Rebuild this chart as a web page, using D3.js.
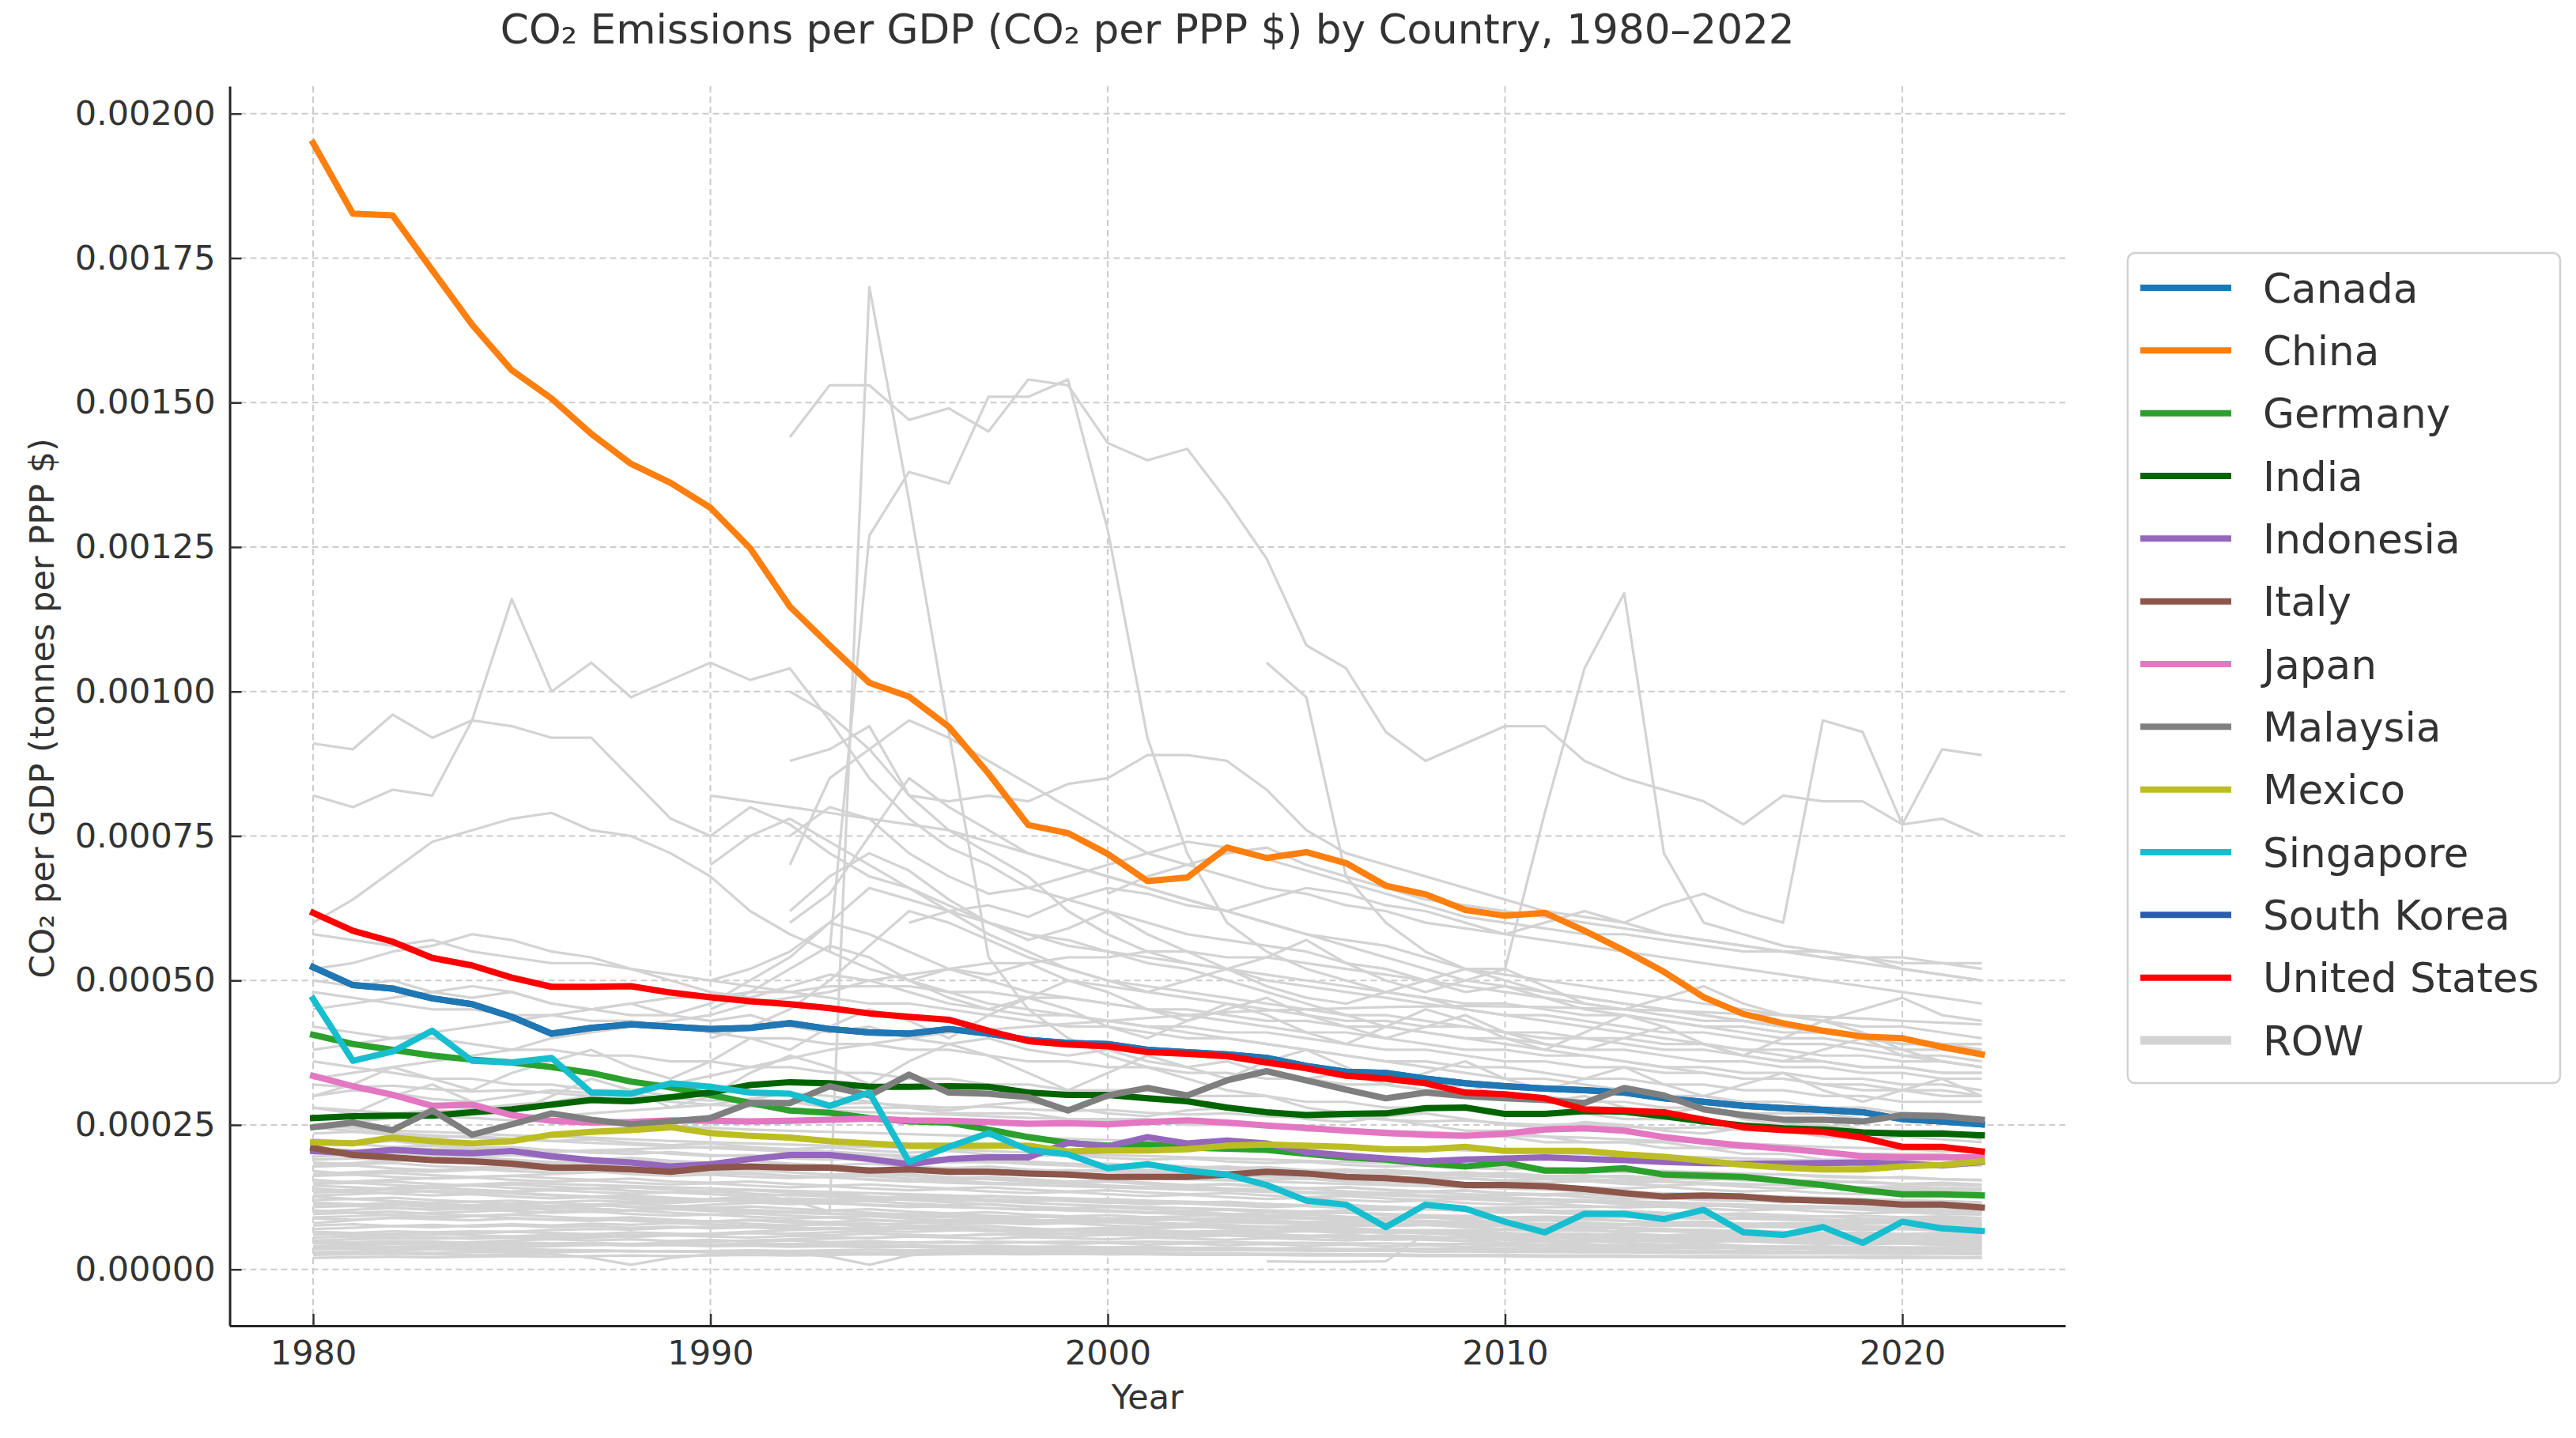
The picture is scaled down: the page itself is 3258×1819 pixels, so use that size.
<!DOCTYPE html>
<html>
<head>
<meta charset="utf-8">
<script src="https://cdn.jsdelivr.net/npm/d3@7"></script>
<style>
  html, body { margin: 0; padding: 0; background: #ffffff; }
  svg { display: block; }
  text { font-family: "DejaVu Sans", "Liberation Sans", sans-serif; fill: #333333; }
</style>
</head>
<body>
<svg id="chart" width="3258" height="1819"></svg>
<script>
// ---------------- DATA ----------------
const N = null;
const years = [1980,1981,1982,1983,1984,1985,1986,1987,1988,1989,
               1990,1991,1992,1993,1994,1995,1996,1997,1998,1999,
               2000,2001,2002,2003,2004,2005,2006,2007,2008,2009,
               2010,2011,2012,2013,2014,2015,2016,2017,2018,2019,
               2020,2021,2022];

const countries = ["Canada","China","Germany","India","Indonesia","Italy","Japan",
                   "Malaysia","Mexico","Singapore","South Korea","United States"];
const countryColors = ["#1f77b4","#ff7f0e","#2ca02c","#006400","#9467bd","#8c564b","#e377c2",
                       "#7f7f7f","#bcbd22","#17becf","#2a5caa","#ff0000"];
const rowLabel = "ROW";
const rowColor = "#d3d3d3";

// tonnes CO2 per PPP $
const canada = [0.000523,0.000492,0.000486,0.000469,0.000459,0.000437,0.000408,0.000418,0.000424,0.000420,
                0.000416,0.000418,0.000426,0.000416,0.000410,0.000408,0.000416,0.000408,0.000397,0.000392,
                0.000390,0.000380,0.000376,0.000372,0.000366,0.000352,0.000342,0.000340,0.000330,0.000322,
                0.000317,0.000313,0.000310,0.000306,0.000296,0.000290,0.000283,0.000279,0.000276,0.000272,
                0.000260,0.000256,0.000251];
const china = [0.001949,0.001827,0.001824,0.001729,0.001635,0.001556,0.001507,0.001446,0.001394,0.001361,
               0.001318,0.001248,0.001147,0.001080,0.001015,0.000991,0.000939,0.000858,0.000769,0.000755,
               0.000719,0.000672,0.000678,0.000730,0.000712,0.000722,0.000703,0.000664,0.000649,0.000622,
               0.000612,0.000617,0.000586,0.000552,0.000515,0.000471,0.000442,0.000426,0.000413,0.000403,
               0.000400,0.000385,0.000372];
const germany = [0.000406,0.000390,0.000380,0.000370,0.000363,0.000358,0.000350,0.000340,0.000325,0.000315,
                 0.000302,0.000288,0.000275,0.000271,0.000262,0.000256,0.000254,0.000242,0.000229,0.000219,
                 0.000214,0.000216,0.000211,0.000209,0.000207,0.000200,0.000194,0.000190,0.000183,0.000178,
                 0.000185,0.000171,0.000171,0.000175,0.000164,0.000162,0.000160,0.000153,0.000146,0.000137,
                 0.000130,0.000130,0.000128];
const india = [0.000262,0.000265,0.000266,0.000266,0.000272,0.000277,0.000285,0.000293,0.000291,0.000298,
               0.000306,0.000319,0.000324,0.000322,0.000316,0.000316,0.000317,0.000316,0.000306,0.000302,
               0.000302,0.000296,0.000291,0.000280,0.000272,0.000267,0.000269,0.000270,0.000279,0.000280,
               0.000269,0.000269,0.000274,0.000273,0.000265,0.000256,0.000249,0.000244,0.000242,0.000237,
               0.000235,0.000235,0.000232];
const indonesia = [0.000205,0.000201,0.000207,0.000203,0.000201,0.000205,0.000196,0.000189,0.000185,0.000178,
                   0.000182,0.000191,0.000198,0.000198,0.000191,0.000182,0.000191,0.000194,0.000194,0.000219,
                   0.000213,0.000229,0.000218,0.000223,0.000218,0.000203,0.000197,0.000192,0.000187,0.000190,
                   0.000192,0.000194,0.000191,0.000189,0.000186,0.000184,0.000183,0.000183,0.000184,0.000185,
                   0.000183,0.000180,0.000186];
const italy = [0.000210,0.000198,0.000194,0.000189,0.000187,0.000183,0.000176,0.000176,0.000173,0.000169,
               0.000176,0.000178,0.000176,0.000176,0.000171,0.000173,0.000169,0.000169,0.000166,0.000164,
               0.000160,0.000160,0.000160,0.000164,0.000169,0.000166,0.000160,0.000158,0.000153,0.000146,
               0.000146,0.000144,0.000139,0.000132,0.000126,0.000128,0.000126,0.000121,0.000119,0.000117,
               0.000112,0.000112,0.000107];
const japan = [0.000335,0.000317,0.000302,0.000283,0.000285,0.000267,0.000257,0.000254,0.000255,0.000258,
               0.000257,0.000256,0.000257,0.000259,0.000261,0.000258,0.000257,0.000255,0.000252,0.000253,
               0.000251,0.000255,0.000258,0.000254,0.000249,0.000245,0.000240,0.000236,0.000233,0.000231,
               0.000235,0.000242,0.000244,0.000240,0.000229,0.000221,0.000214,0.000209,0.000203,0.000196,
               0.000194,0.000194,0.000194];
const malaysia = [0.000246,0.000254,0.000241,0.000275,0.000233,0.000251,0.000270,0.000259,0.000251,0.000256,
                  0.000262,0.000288,0.000288,0.000317,0.000301,0.000337,0.000306,0.000304,0.000298,0.000275,
                  0.000301,0.000314,0.000301,0.000327,0.000343,0.000327,0.000311,0.000296,0.000306,0.000300,
                  0.000296,0.000293,0.000288,0.000314,0.000301,0.000277,0.000267,0.000259,0.000259,0.000256,
                  0.000267,0.000265,0.000259];
const mexico = [0.000220,0.000218,0.000228,0.000222,0.000218,0.000222,0.000233,0.000238,0.000241,0.000246,
                0.000236,0.000231,0.000228,0.000222,0.000218,0.000214,0.000214,0.000214,0.000214,0.000204,
                0.000206,0.000206,0.000208,0.000214,0.000216,0.000214,0.000212,0.000208,0.000208,0.000212,
                0.000205,0.000205,0.000205,0.000199,0.000195,0.000188,0.000181,0.000176,0.000173,0.000173,
                0.000178,0.000181,0.000187];
const singapore = [0.000468,0.000361,0.000377,0.000413,0.000361,0.000358,0.000366,0.000306,0.000304,0.000322,
                   0.000316,0.000306,0.000304,0.000283,0.000306,0.000186,0.000212,0.000236,0.000207,0.000199,
                   0.000175,0.000182,0.000171,0.000164,0.000146,0.000119,0.000112,0.0000733,0.000112,0.000105,
                   0.0000824,0.0000642,0.0000961,0.0000961,0.0000870,0.000103,0.0000642,0.0000597,0.0000733,0.0000460,
                   0.0000824,0.0000710,0.0000665];
const southKorea = [0.000523,0.000492,0.000486,0.000469,0.000459,0.000437,0.000408,0.000418,0.000424,0.000420,
                    0.000416,0.000418,0.000426,0.000416,0.000410,0.000408,0.000416,0.000408,0.000397,0.000392,
                    0.000390,0.000380,0.000376,0.000372,0.000366,0.000352,0.000342,0.000340,0.000330,0.000322,
                    0.000317,0.000313,0.000310,0.000306,0.000296,0.000290,0.000283,0.000279,0.000276,0.000272,
                    0.000260,0.000256,0.000251];
const unitedStates = [0.000617,0.000586,0.000567,0.000539,0.000526,0.000505,0.000489,0.000489,0.000490,0.000479,
                      0.000471,0.000464,0.000459,0.000452,0.000443,0.000437,0.000432,0.000413,0.000395,0.000389,
                      0.000386,0.000376,0.000373,0.000369,0.000358,0.000348,0.000335,0.000330,0.000322,0.000306,
                      0.000303,0.000296,0.000277,0.000275,0.000272,0.000259,0.000246,0.000241,0.000238,0.000228,
                      0.000212,0.000212,0.000204];

// Rest of world (ROW) countries, in grams CO2 per PPP $ (1 g = 1e-6 tonnes)
const row01 = [910,900,960,920,950,940,920,920,850,780, 750,800,770,720,680,660,630,600,580,570, 550,530,520,500,480,460,440,420,410,400, 390,380,370,360,350,340,330,330,320,310, 310,300,300];
const row02 = [820,800,830,820,950,1160,1000,1050,990,1020, 1050,1020,1040,950,850,780,730,700,660,640, 620,600,580,570,560,550,530,520,500,480, 490,470,450,440,430,420,410,400,400,390, 380,380,370];
const row03 = [600,640,690,740,760,780,790,760,750,720, 680,620,580,550,520,500,480,460,450,440, 430,420,410,400,390,380,370,360,350,340, 330,330,320,310,300,300,290,290,280,280, 270,270,260];
const row04 = [N,N,N,N,N,N,N,N,N,N, N,N,1440,1530,1530,1470,1490,1450,1540,1530, 1430,1400,1420,1330,1230,1080,1040,930,880,910, 940,940,880,850,830,810,770,820,810,810, 770,780,750];
const row05 = [N,N,N,N,N,N,N,N,N,N, N,N,N,550,1270,1380,1360,1510,1510,1540, 1280,920,720,600,550,520,500,480,470,450, 440,430,420,410,400,390,380,370,360,350, 350,340,340];
const row06 = [N,N,N,N,N,N,N,N,N,N, 140,130,120,100,1700,1330,930,540,450,400, 370,350,330,310,300,280,270,260,250,240, 240,230,220,220,210,210,200,200,190,190, 180,180,180];
const row07 = [N,N,N,N,N,N,N,N,N,N, N,N,N,N,N,N,N,N,N,N, N,N,N,N,1050,990,680,600,550,520, 500,480,470,460,450,440,430,420,410,400, 390,390,380];
const row08 = [N,N,N,N,N,N,N,N,N,N, 820,810,800,790,780,770,760,740,720,700, 680,660,640,620,600,580,560,540,520,500, 490,480,470,460,450,440,430,420,410,400, 390,390,380];
const row09 = [N,N,N,N,N,N,N,N,N,N, N,N,700,850,900,820,810,820,810,840, 850,890,890,880,830,760,720,700,680,660, 640,620,610,600,580,570,560,550,540,530, 520,510,500];
const row10 = [N,N,N,N,N,N,N,N,N,N, N,N,1000,960,900,950,920,880,840,800, 760,720,700,680,660,650,630,620,600,590, 580,570,560,550,540,530,520,510,500,490, 480,470,460];
const row11 = [N,N,N,N,N,N,N,N,N,N, N,N,600,650,750,850,800,760,720,700, 680,660,640,620,600,580,570,560,540,520, 510,500,490,480,470,460,450,440,430,420, 420,410,400];
const row12 = [N,N,N,N,N,N,N,N,N,N, 500,520,550,600,660,640,620,580,550,520, 500,490,480,470,460,450,440,440,430,420, 410,400,400,390,380,380,370,360,360,350, 350,340,340];
const row13 = [N,N,N,N,N,N,N,N,N,N, N,N,880,900,940,820,760,720,680,620, 580,550,530,520,500,490,480,470,460,450, 440,440,430,420,410,410,400,390,390,380, 370,370,360];
const row14 = [N,N,N,N,N,N,N,N,N,N, 700,750,780,740,700,660,620,600,580,560, 550,540,530,520,510,500,490,480,470,460, 460,450,440,440,430,420,420,410,410,400, 400,390,390];
const row15 = [N,N,N,N,N,N,N,N,N,N, N,N,N,N,N,500,520,510,530,500, 490,480,500,520,490,470,460,480,500,520, 520,790,1040,1170,720,600,580,560,550,540, 520,510,500];
const row16 = [N,N,N,N,N,N,N,N,N,N, N,N,N,N,N,600,620,630,610,640, 660,650,630,620,640,660,650,630,620,600, 580,600,620,600,630,650,620,600,950,930, 770,900,890];
const row17 = [N,N,N,N,N,N,N,N,N,N, N,N,750,800,780,720,680,650,660,680, 700,720,740,730,710,690,670,650,630,610, 600,590,580,580,570,560,550,550,540,540, 530,530,520];
const row18 = [N,N,N,N,N,N,N,N,N,N, 400,420,450,500,560,620,600,570,540,520, 500,480,470,460,450,440,430,430,420,420, 410,410,400,400,390,390,380,380,370,370, 360,360,350];
const row19 = [N,N,N,N,N,N,N,N,N,N, N,N,N,N,N,N,N,N,N,N, 650,680,700,720,730,700,680,660,640,630, 620,610,600,590,580,570,560,550,550,540, 540,530,530];
const row20 = [580,570,560,570,550,540,530,530,520,510, 500,490,480,470,460,460,450,440,430,420, 420,410,400,400,390,380,370,360,360,350, 350,340,330,330,320,320,310,310,300,300, 290,290,290];
const row21 = [520,530,550,560,580,570,550,540,520,500, 480,470,490,510,500,480,460,450,440,440, 430,420,420,410,410,400,390,380,380,370, 360,360,350,350,340,340,330,330,320,320, 310,310,300];
const row22 = [480,470,460,450,450,440,440,430,430,420, 410,400,400,390,390,380,380,370,360,360, 350,350,340,340,330,330,320,320,310,310, 300,300,290,290,280,280,270,270,270,260, 260,260,250];
const row23 = [450,460,470,480,490,480,460,450,440,440, 460,500,540,600,580,550,520,500,480,470, 460,450,440,430,420,410,410,400,390,380, 380,370,370,360,350,350,340,340,330,330, 320,320,310];
const row24 = [420,410,400,400,390,380,380,370,370,360, 360,350,350,340,340,330,330,320,320,310, 310,310,300,300,300,290,290,280,280,280, 270,270,270,260,260,260,250,250,250,240, 240,240,230];
const row25 = [380,390,400,410,420,430,440,450,460,470, 470,480,480,490,490,490,480,480,470,470, 460,450,450,440,430,430,420,420,410,400, 400,390,380,380,370,360,360,350,350,340, 340,330,330];
const row26 = [360,350,340,330,330,320,320,310,310,300, 300,290,290,280,280,280,270,270,270,260, 260,260,250,250,250,240,240,240,230,230, 230,220,220,220,220,210,210,210,200,200, 200,200,190];
const row27 = [330,340,350,360,370,380,400,410,420,430, 440,460,470,480,500,510,520,530,530,540, 540,550,550,540,540,530,520,510,500,490, 480,470,460,450,440,430,430,420,410,400, 400,390,390];
const row28 = [300,320,350,330,310,340,360,380,350,330, 360,400,380,420,450,430,400,440,470,450, 420,400,430,460,440,410,390,420,450,430, 400,380,410,440,420,390,370,400,430,410, 380,360,350];
const row29 = [280,270,300,320,290,270,300,330,310,280, 300,340,370,350,320,360,390,370,340,310, 340,370,350,330,360,380,350,320,340,360, 330,310,330,350,320,300,320,340,310,290, 310,330,300];
const row30 = [280,275,270,265,262,258,255,252,250,248, 245,242,240,238,236,234,232,230,228,226, 224,222,220,218,216,214,212,210,208,206, 204,202,200,198,196,194,192,190,188,186, 184,182,180];
const row31 = [300,310,305,295,290,300,310,305,298,290, 285,295,305,300,290,280,275,285,290,280, 270,265,275,280,270,260,255,265,270,260, 250,245,255,250,240,235,245,240,230,225, 230,225,220];
const row32 = [320,315,318,312,308,310,305,300,302,296, 292,295,290,286,288,283,280,282,277,274, 276,271,268,270,265,262,264,259,256,258, 253,250,252,247,244,246,241,238,240,235, 232,234,230];
const row33 = [260,265,270,275,272,268,265,270,275,280, 285,282,278,275,272,270,268,265,262,260, 258,255,252,250,248,245,242,240,238,235, 232,230,228,225,222,220,218,215,212,210, 208,205,202];
const row34 = [250,245,240,238,235,232,230,228,225,222, 220,218,216,214,212,210,208,205,202,200, 198,196,194,192,190,188,186,184,182,180, 178,176,174,172,170,168,166,164,162,160, 158,156,155];
const row35 = [235,238,233,228,231,226,222,225,219,215, 218,212,208,211,206,202,205,199,196,198, 193,190,192,187,184,186,181,178,180,176, 173,175,170,168,170,165,163,165,160,158, 160,156,154];
const row36 = [225,220,222,215,210,212,206,203,205,200, 196,198,192,190,193,188,185,187,182,180, 183,178,176,178,173,171,173,168,166,168, 163,161,163,158,156,158,154,152,154,150, 148,150,147];
const row37 = [215,217,212,214,208,205,207,202,200,203, 198,195,197,192,190,192,187,185,187,182, 180,182,178,175,177,172,170,172,168,165, 167,162,160,162,158,155,157,152,150,152, 148,146,145];
const row38 = [205,200,202,197,195,198,192,190,193,188, 185,188,183,180,183,178,175,178,173,170, 173,168,165,168,163,160,163,158,155,158, 153,150,153,148,145,148,143,140,143,138, 136,138,135];
const row39 = [195,198,193,190,192,187,185,188,182,180, 183,178,175,177,172,170,173,168,165,167, 162,160,163,158,155,157,152,150,153,148, 145,147,142,140,143,138,135,137,132,130, 132,128,126];
const row40 = [185,182,184,179,176,178,173,170,172,168, 165,167,162,160,162,157,155,157,152,150, 152,147,145,147,142,140,142,137,135,137, 132,130,132,127,125,127,122,120,122,118, 116,118,115];
const row41 = [178,180,175,172,174,170,168,170,165,162, 164,160,158,160,155,152,154,150,148,150, 145,142,144,140,138,140,135,132,134,130, 128,130,125,122,124,120,118,120,115,112, 114,110,108];
const row42 = [170,165,167,163,160,162,158,155,157,152, 150,152,148,145,147,143,140,142,138,135, 137,133,130,132,128,125,127,123,120,122, 118,115,117,113,110,112,108,105,107,103, 100,102,100];
const row43 = [162,164,160,157,159,155,152,154,150,147, 149,145,142,144,140,137,139,135,132,134, 130,127,129,125,122,124,120,117,119,115, 112,114,110,107,109,105,102,104,100,97, 99,96,95];
const row44 = [155,150,152,148,145,147,143,140,142,138, 135,137,133,130,132,128,125,127,123,120, 122,118,115,117,113,110,112,108,105,107, 103,100,102,98,95,97,93,90,92,88, 86,88,85];
const row45 = [148,150,146,143,145,141,138,140,136,133, 135,131,128,130,126,123,125,121,118,120, 116,113,115,111,108,110,106,103,105,101, 98,100,96,93,95,91,88,90,86,83, 85,82,80];
const row46 = [140,136,138,134,131,133,129,126,128,124, 121,123,119,116,118,114,111,113,109,106, 108,104,101,103,99,96,98,94,91,93, 89,86,88,84,81,83,79,76,78,74, 72,74,72];
const row47 = [133,135,131,128,130,126,123,125,121,118, 120,116,113,115,111,108,110,106,103,105, 101,98,100,96,93,95,91,88,90,86, 83,85,81,78,80,76,73,75,71,68, 70,67,66];
const row48 = [126,122,124,120,117,119,115,112,114,110, 107,109,105,102,104,100,97,99,95,92, 94,90,87,89,85,82,84,80,77,79, 75,72,74,70,67,69,65,62,64,60, 58,60,58];
const row49 = [120,122,118,115,117,113,110,112,108,105, 107,103,100,102,98,95,97,93,90,92, 88,85,87,83,80,82,78,75,77,73, 70,72,68,65,67,63,60,62,58,55, 57,54,53];
const row50 = [114,110,112,108,105,107,103,100,102,98, 95,97,93,90,92,88,85,87,83,80, 82,78,75,77,73,70,72,68,65,67, 63,60,62,58,55,57,53,50,52,48, 47,48,46];
const row51 = [108,110,106,103,105,101,98,100,96,93, 95,91,88,90,86,83,85,81,78,80, 76,73,75,71,68,70,66,63,65,61, 58,60,56,53,55,51,48,50,46,43, 45,42,41];
const row52 = [102,98,100,96,93,95,91,88,90,86, 83,85,81,78,80,76,73,75,71,68, 70,66,63,65,61,58,60,56,53,55, 51,48,50,46,43,45,41,38,40,36, 35,36,34];
const row53 = [96,98,94,91,93,89,86,88,84,81, 83,79,76,78,74,71,73,69,66,68, 64,61,63,59,56,58,54,51,53,49, 46,48,44,41,43,39,36,38,34,31, 33,30,29];
const row54 = [40,42,44,45,47,50,52,55,57,60, 62,65,68,70,72,75,77,80,82,85, 88,90,92,95,98,100,102,104,105,106, 107,108,108,109,109,110,110,110,109,108, 107,106,105];
const row55 = [60,62,61,64,66,65,68,70,69,72, 74,73,76,78,77,80,82,81,84,85, 84,86,87,86,88,89,88,90,90,89, 90,91,90,90,89,88,88,87,86,85, 84,84,83];
const row56 = [30,31,33,35,37,38,40,42,44,46, 48,50,52,53,55,57,58,60,61,62, 63,64,65,66,66,67,67,68,68,68, 68,67,67,66,66,65,64,63,62,61, 60,60,59];
const row57 = [80,85,90,88,92,95,100,105,102,108, 112,115,118,120,125,122,120,118,115,112, 110,108,106,104,102,100,98,96,94,92, 90,88,86,84,82,80,78,76,75,74, 73,72,71];
const row58 = [45,44,46,45,43,44,42,43,41,42, 40,41,39,40,38,39,37,38,36,37, 35,36,34,35,33,34,32,33,31,32, 30,31,30,30,29,29,28,28,28,27, 27,27,26];
const row59 = [35,36,34,35,33,34,32,33,31,32, 30,31,29,30,28,29,28,28,27,27, 26,27,26,26,25,25,25,24,24,24, 23,23,23,22,22,22,22,21,21,21, 21,21,20];
const row60 = [55,57,54,56,53,55,52,50,52,49, 51,48,50,47,49,46,48,45,47,44, 46,43,45,42,44,41,43,40,42,39, 41,38,40,37,39,36,38,35,37,34, 36,33,34];
const row61 = [70,72,75,73,76,78,76,79,77,80, 78,75,73,70,68,71,69,66,64,67, 65,62,60,63,61,58,56,59,57,54, 52,55,53,50,48,51,49,46,44,47, 45,43,42];
const row62 = [25,26,27,26,25,26,27,20,8,20, 26,27,28,28,29,30,30,31,31,32, 32,33,33,34,34,35,35,35,36,36, 36,36,37,37,37,37,37,36,36,36, 35,35,35];
const row63 = [40,39,38,37,36,35,34,33,32,31, 30,29,28,22,8,24,30,31,30,30, 29,29,28,28,27,27,26,26,25,25, 25,24,24,24,23,23,23,22,22,22, 22,21,21];
const row64 = [N,N,N,N,N,N,N,N,N,N, N,N,N,N,N,N,N,N,N,N, N,N,N,N,14,13,13,14,62,60, 58,57,56,55,54,53,52,51,50,49, 48,47,46];
const row65 = [90,92,95,98,100,103,106,110,114,118, 122,126,130,128,124,120,116,112,108,105, 102,99,96,93,90,88,86,84,82,80, 78,76,74,72,70,68,66,64,63,62, 61,60,59];
const row66 = [150,152,155,158,160,162,165,168,170,172, 175,178,180,176,170,165,160,156,152,148, 145,142,140,138,136,134,132,130,128,126, 124,122,120,118,116,114,112,110,108,106, 104,102,100];
const row67 = [200,205,210,208,205,200,196,192,188,185, 182,180,178,175,172,170,168,166,164,162, 160,158,156,154,152,150,148,146,144,142, 140,138,136,134,132,130,128,126,124,122, 120,118,116];
const row68 = [65,63,66,64,62,65,63,61,64,62, 60,63,61,59,62,60,58,61,59,57, 60,58,56,59,57,55,58,56,54,57, 55,53,56,54,52,55,53,51,54,52, 50,53,51];
const row69 = [110,112,115,113,111,114,116,119,117,115, 118,120,123,121,119,122,124,127,125,123, 121,119,117,115,113,111,109,107,105,103, 101,99,97,95,93,91,89,87,85,83, 81,79,77];
const row70 = [180,184,188,192,196,200,203,206,208,210, 212,210,207,204,200,196,192,188,184,180, 176,172,168,164,160,157,154,151,148,145, 142,139,136,133,130,127,124,121,118,116, 114,112,110];
const row71 = [210,206,202,198,194,190,186,182,178,174, 170,172,168,164,166,162,158,160,156,152, 154,150,146,148,144,140,142,138,134,136, 132,128,130,126,122,124,120,116,118,114, 110,112,109];
const row72 = [165,168,171,169,172,175,173,176,174,171, 168,165,162,159,156,153,150,148,146,144, 142,140,138,136,134,132,130,128,126,124, 122,120,118,116,114,112,110,108,106,104, 102,100,98];
const row73 = [145,142,139,141,138,135,137,134,131,133, 130,127,129,126,123,125,122,119,121,118, 115,117,114,111,113,110,107,109,106,103, 105,102,99,101,98,95,97,94,91,93, 90,92,89];
const row74 = [128,130,133,136,134,131,128,126,124,122, 120,118,116,114,112,110,108,106,104,102, 100,98,96,94,92,90,88,86,84,82, 80,79,78,77,76,75,74,73,72,71, 70,69,68];
const row75 = [116,113,110,112,109,106,108,105,102,104, 101,98,100,97,94,96,93,90,92,89, 86,88,85,82,84,81,78,80,77,74, 76,73,70,72,69,66,68,65,62,64, 61,63,60];
const row76 = [100,103,106,104,107,110,108,111,109,106, 103,100,98,96,94,92,90,88,86,84, 82,80,78,76,74,72,70,68,66,64, 62,61,60,59,58,57,56,55,54,53, 52,51,50];
const row77 = [88,86,89,87,85,88,86,84,87,85, 83,86,84,82,85,83,81,84,82,80, 83,81,79,82,80,78,81,79,77,80, 78,76,79,77,75,78,76,74,77,75, 73,76,74];
const row78 = [76,78,75,77,74,76,73,75,72,74, 71,73,70,72,69,71,68,70,67,69, 66,68,65,67,64,66,63,65,62,64, 61,63,60,62,59,61,58,60,57,59, 56,58,55];
const row79 = [50,52,54,53,55,57,56,58,60,59, 61,63,62,64,66,65,67,69,68,70, 72,71,73,74,73,75,76,75,77,78, 77,78,79,78,79,80,79,80,80,79, 80,80,79];
const row80 = [62,60,58,61,59,57,60,58,56,59, 57,55,58,56,54,57,55,53,56,54, 52,55,53,51,54,52,50,53,51,49, 52,50,48,51,49,47,50,48,46,49, 47,45,46];
const row81 = [48,47,49,48,46,47,45,46,44,45, 43,44,42,43,41,42,40,41,39,40, 38,39,37,38,36,37,35,36,35,35, 34,34,33,33,33,32,32,31,31,31, 30,30,30];
const row82 = [38,40,39,41,40,42,41,43,42,44, 43,45,44,46,45,47,46,48,47,48, 47,48,47,47,46,46,45,45,44,44, 43,43,42,42,41,41,40,40,39,39, 38,38,37];
const row83 = [28,29,30,29,30,31,30,31,32,31, 32,33,32,33,34,33,34,35,34,35, 34,34,33,33,33,32,32,32,31,31, 31,30,30,30,29,29,29,28,28,28, 27,27,27];
const row84 = [190,192,189,186,188,185,183,186,183,180, 182,179,176,178,175,173,176,173,170,172, 169,166,168,165,162,164,161,158,160,157, 154,156,153,150,152,149,146,148,145,142, 144,141,140];
const row85 = [245,240,236,232,228,225,222,219,216,213, 210,207,204,201,198,195,192,189,186,183, 180,178,176,174,172,170,168,166,164,162, 160,158,156,154,152,150,148,146,144,142, 140,138,136];
const row86 = [135,138,141,144,147,150,148,146,144,142, 140,138,136,134,132,130,128,126,124,122, 120,118,116,114,112,110,108,106,104,102, 100,98,96,94,92,90,88,86,84,82, 80,78,76];
const row87 = [20,21,22,21,22,23,22,23,24,23, 24,25,24,25,26,25,26,27,26,27, 26,26,25,25,25,24,24,24,23,23, 23,22,22,22,22,21,21,21,21,20, 20,20,20];
const row88 = [N,N,N,N,N,N,N,N,N,N, N,N,620,680,720,690,640,600,570,590, 620,580,550,520,540,570,530,500,480,500, 520,490,460,450,470,490,460,440,430,450, 470,440,430];
const row89 = [N,N,N,N,N,N,N,N,N,N, 450,480,520,560,540,500,470,450,470,500, 480,450,430,450,470,440,420,400,420,440, 410,390,380,400,420,390,370,360,380,400, 370,360,350];
const row90 = [250,255,262,270,278,285,290,300,310,320, 335,350,365,380,390,400,410,415,420,425, 430,435,440,445,448,450,452,454,455,456, 455,454,452,450,448,445,442,440,437,434, 430,427,424];
const row91 = [500,490,500,480,470,480,460,450,460,440, 430,440,420,410,420,400,390,400,380,370, 380,360,350,360,340,330,340,320,310,320, 300,290,300,280,270,280,260,250,260,240, 230,240,225];

const rowSeriesGrams = [row01,row02,row03,row04,row05,row06,row07,row08,row09,row10,
  row11,row12,row13,row14,row15,row16,row17,row18,row19,row20,
  row21,row22,row23,row24,row25,row26,row27,row28,row29,row30,
  row31,row32,row33,row34,row35,row36,row37,row38,row39,row40,
  row41,row42,row43,row44,row45,row46,row47,row48,row49,row50,
  row51,row52,row53,row54,row55,row56,row57,row58,row59,row60,
  row61,row62,row63,row64,row65,row66,row67,row68,row69,row70,
  row71,row72,row73,row74,row75,row76,row77,row78,row79,row80,
  row81,row82,row83,row84,row85,row86,row87,row88,row89,row90,row91];

const countrySeries = [canada, china, germany, india, indonesia, italy, japan,
                       malaysia, mexico, singapore, southKorea, unitedStates];

const xTickValues = [1980, 1990, 2000, 2010, 2020];
const yTickValues = [0, 0.00025, 0.0005, 0.00075, 0.001, 0.00125, 0.0015, 0.00175, 0.002];

const titleText = "CO\u2082 Emissions per GDP (CO\u2082 per PPP $) by Country, 1980\u20132022";
const xLabelText = "Year";
const yLabelText = "CO\u2082 per GDP (tonnes per PPP $)";

// ---------------- CHECKS ----------------
[...countrySeries, ...rowSeriesGrams].forEach((s, i) => {
  if (s.length !== years.length) throw new Error("series " + i + " has length " + s.length);
});

// ---------------- DRAW ----------------
const svg = d3.select("#chart");
const plotLeft = 290.5, plotRight = 2612, plotTop = 109, plotBottom = 1677;

const x = d3.scaleLinear().domain([1977.9, 2024.1]).range([plotLeft, plotRight]);
const y = d3.scaleLinear().domain([-0.0000975, 0.0020475]).range([plotBottom, plotTop]);

const tickFont = 43;
const bigFont = 51.6;

// grid
const grid = svg.append("g").attr("class", "grid");
grid.selectAll("line.hg").data(yTickValues).join("line")
  .attr("x1", plotLeft).attr("x2", plotRight)
  .attr("y1", d => y(d)).attr("y2", d => y(d))
  .attr("stroke", "#cccccc").attr("stroke-width", 2).attr("stroke-dasharray", "8,5");
grid.selectAll("line.vg").data(xTickValues).join("line")
  .attr("x1", d => x(d)).attr("x2", d => x(d))
  .attr("y1", plotTop).attr("y2", plotBottom)
  .attr("stroke", "#cccccc").attr("stroke-width", 2).attr("stroke-dasharray", "8,5");

const line = d3.line()
  .defined(d => d[1] !== null)
  .x(d => x(d[0]))
  .y(d => y(d[1]));

// ROW lines (grams -> tonnes)
const rowG = svg.append("g").attr("class", "row");
rowSeriesGrams.forEach(s => {
  const pts = years.map((yr, i) => [yr, s[i] === null ? null : s[i] * 1e-6]);
  rowG.append("path")
    .attr("d", line(pts))
    .attr("fill", "none")
    .attr("stroke", rowColor)
    .attr("stroke-width", 3.2)
    .attr("stroke-linejoin", "round");
});

// highlighted countries; South Korea drawn beneath Canada (they overlap)
const drawOrder = [10, 0, 1, 2, 3, 4, 5, 6, 7, 8, 9, 11];
const cG = svg.append("g").attr("class", "countries");
drawOrder.forEach(ci => {
  const s = countrySeries[ci];
  const pts = years.map((yr, i) => [yr, s[i]]);
  cG.append("path")
    .attr("d", line(pts))
    .attr("fill", "none")
    .attr("stroke", countryColors[ci])
    .attr("stroke-width", 8)
    .attr("stroke-linejoin", "round")
    .attr("stroke-linecap", "square");
});

// axes
const yAxis = d3.axisLeft(y).tickValues(yTickValues).tickFormat(d3.format(".5f"))
  .tickSizeInner(-15).tickSizeOuter(0).tickPadding(18);
const xAxis = d3.axisBottom(x).tickValues(xTickValues).tickFormat(d3.format("d"))
  .tickSizeInner(-15).tickSizeOuter(0).tickPadding(18);

const gy = svg.append("g").attr("transform", `translate(${plotLeft},0)`).call(yAxis);
const gx = svg.append("g").attr("transform", `translate(0,${plotBottom})`).call(xAxis);
[gx, gy].forEach(g => {
  g.select(".domain").attr("stroke", "#262626").attr("stroke-width", 3);
  g.selectAll(".tick line").attr("stroke", "#333333").attr("stroke-width", 2.5);
  g.selectAll(".tick text")
    .attr("font-family", "DejaVu Sans")
    .attr("font-size", tickFont)
    .attr("fill", "#333333");
});

// title & labels
svg.append("text")
  .attr("x", (plotLeft + plotRight) / 2).attr("y", 55)
  .attr("text-anchor", "middle")
  .attr("font-size", bigFont)
  .text(titleText);

svg.append("text")
  .attr("x", (plotLeft + plotRight) / 2).attr("y", 1782)
  .attr("text-anchor", "middle")
  .attr("font-size", tickFont)
  .text(xLabelText);

svg.append("text")
  .attr("transform", `translate(68,${(plotTop + plotBottom) / 2 + 3}) rotate(-90)`)
  .attr("text-anchor", "middle")
  .attr("font-size", tickFont)
  .text(yLabelText);

// legend
const legendLabels = [...countries, rowLabel];
const legendColors = [...countryColors, rowColor];
const lg = svg.append("g").attr("class", "legend");
lg.append("rect")
  .attr("x", 2691).attr("y", 320).attr("width", 547).attr("height", 1050)
  .attr("rx", 9).attr("ry", 9)
  .attr("fill", "#ffffff").attr("fill-opacity", 0.85)
  .attr("stroke", "#d0d0d0").attr("stroke-width", 2.5);

const rowY = d3.scaleLinear().domain([0, legendLabels.length - 1]).range([364, 1316]);
legendLabels.forEach((lab, i) => {
  const cy = rowY(i);
  lg.append("line")
    .attr("x1", 2707).attr("x2", 2822)
    .attr("y1", cy).attr("y2", cy)
    .attr("stroke", legendColors[i])
    .attr("stroke-width", lab === rowLabel ? 11 : 8);
  lg.append("text")
    .attr("x", 2862).attr("y", cy)
    .attr("dy", "0.36em")
    .attr("font-size", bigFont)
    .text(lab);
});
</script>
</body>
</html>
